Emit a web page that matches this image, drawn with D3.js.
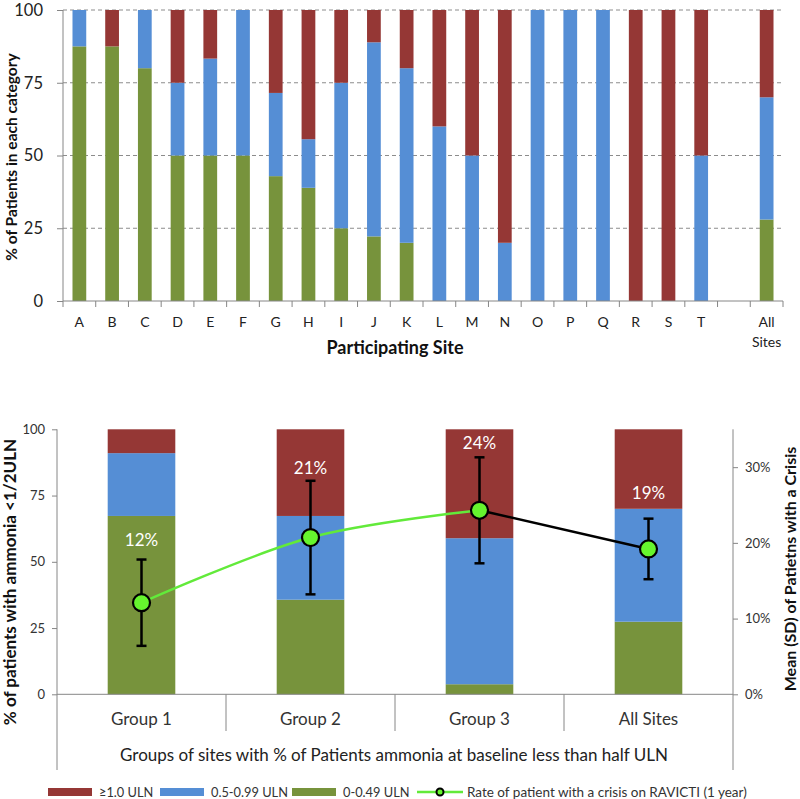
<!DOCTYPE html>
<html>
<head>
<meta charset="utf-8">
<script src="https://cdn.jsdelivr.net/npm/d3@7"></script>
<style>
  body { margin: 0; background: #fff; }
  text { font-family: Lato, "Open Sans", sans-serif; }
</style>
</head>
<body>
<script>
// ---------- DATA ----------
const sites = ["A","B","C","D","E","F","G","H","I","J","K","L","M","N","O","P","Q","R","S","T","All Sites"];
const siteGreen = [87.5, 87.5, 80, 50, 50, 50, 42.9, 38.9, 25, 22.2, 20, 0, 0, 0, 0, 0, 0, 0, 0, 0, 28];
const siteBlue  = [12.5, 0, 20, 25, 33.3, 50, 28.6, 16.7, 50, 66.7, 60, 60, 50, 20, 100, 100, 100, 0, 0, 50, 42];
const siteRed   = [0, 12.5, 0, 25, 16.7, 0, 28.5, 44.4, 25, 11.1, 20, 40, 50, 80, 0, 0, 0, 100, 100, 50, 30];
const topTicks = [0, 25, 50, 75, 100];

const groups = ["Group 1","Group 2","Group 3","All Sites"];
const groupGreen = [67.3, 35.7, 3.8, 27.4];
const groupBlue  = [23.7, 31.6, 55.1, 42.6];
const groupRed   = [9.0, 32.7, 41.1, 30.0];
const crisisMean = [12.1, 20.7, 24.3, 19.2];
const crisisSD   = [5.7, 7.5, 7.0, 4.0];
const crisisLabels = ["12%","21%","24%","19%"];
const leftTicks = [0, 25, 50, 75, 100];
const rightTicks = [0, 0.1, 0.2, 0.3];

const seriesKeys = ["green","blue","red"];
const seriesNames = ["\u22651.0 ULN","0.5-0.99 ULN","0-0.49 ULN"];
const lineName = "Rate of patient with a crisis on RAVICTI (1 year)";

// ---------- STYLE ----------
const colors = { red: "#953735", blue: "#558ED5", green: "#77933C" };
const axisColor = "#868686";
const lineGreen = "#62EA3A";
const dotFill = "#66F52E";

const svg = d3.select("body").append("svg").attr("width", 800).attr("height", 799);

// ================= TOP CHART =================
const gapKey = "__gap__";
const topDomain = [...sites.slice(0, 20), gapKey, sites[20]];
const xTop = d3.scaleBand().domain(topDomain).range([63, 783]).padding(0);
const yTop = d3.scaleLinear().domain([0, 100]).range([301, 10]);
const topRows = sites.map((s, i) => ({ cat: s, green: siteGreen[i], blue: siteBlue[i], red: siteRed[i] }));
const topStack = d3.stack().keys(seriesKeys)(topRows);

const topG = svg.append("g");
// gridlines
topG.selectAll("line.grid").data(topTicks.filter(t => t > 0)).join("line")
  .attr("x1", 63).attr("x2", 783)
  .attr("y1", d => yTop(d)).attr("y2", d => yTop(d))
  .attr("stroke", "#8c8c8c").attr("stroke-width", 1).attr("stroke-dasharray", "4,3");

const bwTop = xTop.bandwidth() * 0.42;
topG.selectAll("g.series").data(topStack).join("g")
  .attr("fill", d => colors[d.key])
  .selectAll("rect").data(d => d).join("rect")
  .attr("x", d => xTop(d.data.cat) + (xTop.bandwidth() - bwTop) / 2)
  .attr("width", bwTop)
  .attr("y", d => yTop(d[1]))
  .attr("height", d => Math.max(0, yTop(d[0]) - yTop(d[1])));

// y axis
const yAxisTop = d3.axisLeft(yTop).tickValues(topTicks).tickSize(6).tickPadding(14);
const gyTop = topG.append("g").attr("transform", "translate(63,0)").call(yAxisTop);
gyTop.select(".domain").attr("stroke", axisColor).attr("d", `M0,${yTop(100)}V${yTop(0)}`);
gyTop.selectAll(".tick line").attr("stroke", axisColor);
gyTop.selectAll(".tick text").attr("font-size", 16.5).attr("fill", "#222").attr("font-family", "Lato");

// x axis
const y0Top = yTop(0);
topG.append("line").attr("x1", 63).attr("x2", 783).attr("y1", y0Top).attr("y2", y0Top).attr("stroke", axisColor);
const bounds = topDomain.map(d => xTop(d)).concat([783]);
topG.selectAll("line.xt").data(bounds).join("line")
  .attr("x1", d => d).attr("x2", d => d).attr("y1", y0Top).attr("y2", y0Top + 6).attr("stroke", axisColor);
topG.selectAll("text.cat").data(sites).join("text")
  .attr("x", d => xTop(d) + xTop.bandwidth() / 2)
  .attr("y", 327)
  .attr("text-anchor", "middle").attr("font-size", 14).attr("fill", "#222")
  .each(function(d) {
    const parts = d.split(" ");
    const xx = d3.select(this).attr("x");
    d3.select(this).selectAll("tspan").data(parts).join("tspan")
      .attr("x", xx)
      .attr("dy", (p, i) => i === 0 ? 0 : 20)
      .text(p => p);
  });
topG.append("text").attr("x", 395).attr("y", 354).attr("text-anchor", "middle")
  .attr("font-size", 18).attr("font-weight", "bold").attr("fill", "#111").text("Participating Site");
topG.append("text").attr("transform", "translate(17,157) rotate(-90)").attr("text-anchor", "middle")
  .attr("font-size", 15.5).attr("font-weight", "bold").attr("fill", "#111").text("% of Patients in each category");

// ================= BOTTOM CHART =================
const xB = d3.scaleBand().domain(groups).range([57, 733]).padding(0);
const yL = d3.scaleLinear().domain([0, 100]).range([694.3, 429.3]);
const yR = d3.scaleLinear().domain([0, 0.35]).range([694.3, 429.3]);
const botRows = groups.map((g, i) => ({ cat: g, green: groupGreen[i], blue: groupBlue[i], red: groupRed[i] }));
const botStack = d3.stack().keys(seriesKeys)(botRows);
const bot = svg.append("g");

const bwB = xB.bandwidth() * 0.4;
bot.selectAll("g.series").data(botStack).join("g")
  .attr("fill", d => colors[d.key])
  .selectAll("rect").data(d => d).join("rect")
  .attr("x", d => xB(d.data.cat) + (xB.bandwidth() - bwB) / 2)
  .attr("width", bwB)
  .attr("y", d => yL(d[1]))
  .attr("height", d => Math.max(0, yL(d[0]) - yL(d[1])));

// axes frame
bot.append("line").attr("x1", 57).attr("x2", 57).attr("y1", 429.3).attr("y2", 770).attr("stroke", axisColor);
bot.append("line").attr("x1", 733).attr("x2", 733).attr("y1", 429.3).attr("y2", 770).attr("stroke", axisColor);
bot.append("line").attr("x1", 57).attr("x2", 733).attr("y1", 694.3).attr("y2", 694.3).attr("stroke", axisColor);
bot.selectAll("line.sep").data(groups.slice(1)).join("line")
  .attr("x1", d => xB(d)).attr("x2", d => xB(d)).attr("y1", 694.3).attr("y2", 731).attr("stroke", axisColor);

const gl = bot.append("g").attr("transform", "translate(57,0)")
  .call(d3.axisLeft(yL).tickValues(leftTicks).tickSize(5).tickPadding(7));
gl.select(".domain").remove();
gl.selectAll(".tick line").attr("stroke", axisColor);
gl.selectAll(".tick text").attr("font-size", 13).attr("fill", "#333").attr("font-family", "Lato");

const gr = bot.append("g").attr("transform", "translate(733,0)")
  .call(d3.axisRight(yR).tickValues(rightTicks).tickFormat(d3.format(".0%")).tickSize(5).tickPadding(7));
gr.select(".domain").remove();
gr.selectAll(".tick line").attr("stroke", axisColor);
gr.selectAll(".tick text").attr("font-size", 13).attr("fill", "#333").attr("font-family", "Lato");

bot.selectAll("text.grp").data(groups).join("text")
  .attr("x", d => xB(d) + xB.bandwidth() / 2).attr("y", 725)
  .attr("text-anchor", "middle").attr("font-size", 17).attr("fill", "#333").text(d => d);
bot.append("text").attr("x", 394).attr("y", 761).attr("text-anchor", "middle")
  .attr("font-size", 17).attr("fill", "#222")
  .text("Groups of sites with % of Patients ammonia at baseline less than half ULN");
bot.append("text").attr("transform", "translate(16,582) rotate(-90)").attr("text-anchor", "middle")
  .attr("font-size", 17).attr("font-weight", "bold").attr("fill", "#111").text("% of patients with ammonia <1/2ULN");
bot.append("text").attr("transform", "translate(796,569) rotate(-90)").attr("text-anchor", "middle")
  .attr("font-size", 16).attr("font-weight", "bold").attr("fill", "#111").text("Mean (SD) of Patietns with a Crisis");

// crisis line
const pts = groups.map((g, i) => ({ x: xB(g) + xB.bandwidth() / 2, m: crisisMean[i] / 100, sd: crisisSD[i] / 100, label: crisisLabels[i] }));
bot.append("path").datum(pts.slice(0, 3))
  .attr("d", d3.line().x(d => d.x).y(d => yR(d.m)).curve(d3.curveCatmullRom.alpha(0.5)))
  .attr("fill", "none").attr("stroke", lineGreen).attr("stroke-width", 2.5);
bot.append("path").datum(pts.slice(2))
  .attr("d", d3.line().x(d => d.x).y(d => yR(d.m)))
  .attr("fill", "none").attr("stroke", "#000").attr("stroke-width", 2.5);

// error bars
const eb = bot.selectAll("g.eb").data(pts).join("g");
eb.append("line").attr("x1", d => d.x).attr("x2", d => d.x)
  .attr("y1", d => yR(d.m - d.sd)).attr("y2", d => yR(d.m + d.sd)).attr("stroke", "#000").attr("stroke-width", 2.5);
eb.append("line").attr("x1", d => d.x - 5).attr("x2", d => d.x + 5)
  .attr("y1", d => yR(d.m + d.sd)).attr("y2", d => yR(d.m + d.sd)).attr("stroke", "#000").attr("stroke-width", 2.5);
eb.append("line").attr("x1", d => d.x - 5).attr("x2", d => d.x + 5)
  .attr("y1", d => yR(d.m - d.sd)).attr("y2", d => yR(d.m - d.sd)).attr("stroke", "#000").attr("stroke-width", 2.5);
eb.append("circle").attr("cx", d => d.x).attr("cy", d => yR(d.m)).attr("r", 8.5)
  .attr("fill", dotFill).attr("stroke", "#000").attr("stroke-width", 2.2);
// data labels sit a little above the mean (between mean-based and bar-based placement)
eb.append("text").attr("x", d => d.x)
  .attr("y", d => (yR(d.m + d.sd) - 12 + yR(d.m + 0.085) + 6) / 2)
  .attr("text-anchor", "middle").attr("font-size", 17).attr("fill", "#fff").text(d => d.label);

// legend
const leg = svg.append("g");
const legItems = [
  { key: "red", name: seriesNames[0], x: 48 },
  { key: "blue", name: seriesNames[1], x: 160 },
  { key: "green", name: seriesNames[2], x: 292 }
];
legItems.forEach(it => {
  leg.append("rect").attr("x", it.x).attr("y", 788).attr("width", 44).attr("height", 8).attr("fill", colors[it.key]);
  leg.append("text").attr("x", it.x + 51).attr("y", 797).attr("font-size", 12.8).attr("fill", "#333").text(it.name);
});
leg.append("line").attr("x1", 417).attr("x2", 463).attr("y1", 792).attr("y2", 792).attr("stroke", lineGreen).attr("stroke-width", 2.5);
leg.append("circle").attr("cx", 440).attr("cy", 792).attr("r", 3.5).attr("fill", dotFill).attr("stroke", "#000").attr("stroke-width", 2);
leg.append("text").attr("x", 467).attr("y", 797).attr("font-size", 13.5).attr("fill", "#333").text(lineName);
</script>
</body>
</html>
